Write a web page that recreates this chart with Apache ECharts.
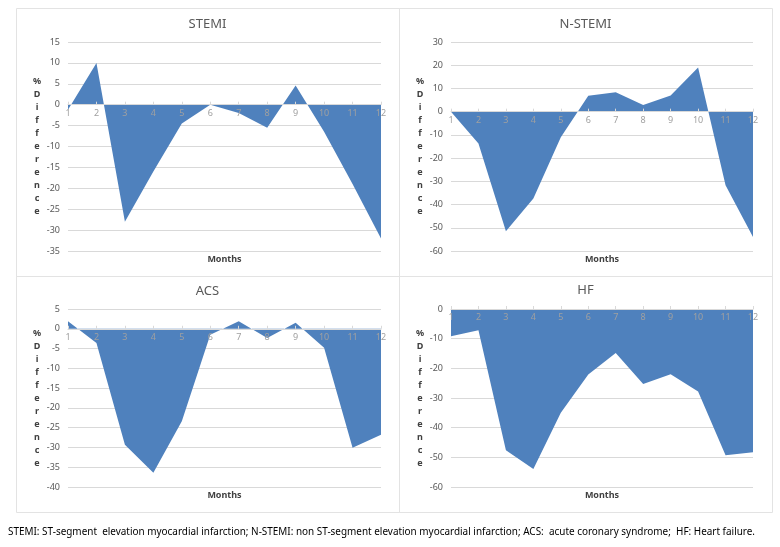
<!DOCTYPE html>
<html>
<head>
<meta charset="utf-8">
<script src="https://cdn.jsdelivr.net/npm/echarts@6/dist/echarts.min.js"></script>
<style>
html, body { margin: 0; padding: 0; background: #fff; }
#chart { width: 780px; height: 547px; }
</style>
</head>
<body>
<div id="chart"></div>
<script>
// months on the x axis
const months = ['1', '2', '3', '4', '5', '6', '7', '8', '9', '10', '11', '12']

// % difference per month, one array per panel
const stemi = [-1.2, 10, -28, -16, -4.5, 0, -2, -5.5, 4.6, -6.5, -19, -32]
const nstemi = [0, -13.7, -51.5, -37.4, -11, 6.9, 8.4, 2.9, 7, 19, -31.7, -54]
const acs = [1.9, -3.6, -29.3, -36.4, -23.4, -1.5, 1.9, -2.3, 1.5, -4.8, -30.1, -26.8]
const hf = [-9.2, -7.2, -47.6, -53.9, -35, -22.1, -14.8, -25.3, -22, -27.8, -49.3, -48.3]

const panelTitles = ['STEMI', 'N-STEMI', 'ACS', 'HF']
const yMin = [-35, -60, -40, -60]
const yMax = [15, 30, 5, 0]
const yStep = [5, 10, 5, 10]

const footnote = 'STEMI: ST-segment  elevation myocardial infarction; N-STEMI: non ST-segment elevation myocardial infarction; ACS:  acute coronary syndrome;  HF: Heart failure.'

const seriesData = [stemi, nstemi, acs, hf]

// layout of the 2x2 panels
const cells = [
  [16, 8, 383, 268],
  [399, 8, 373, 268],
  [16, 276, 383, 236],
  [399, 276, 373, 236]
]
const grids = [
  { left: 68, top: 42, width: 313, height: 209 },
  { left: 451, top: 42, width: 302, height: 209 },
  { left: 68, top: 309, width: 313, height: 178 },
  { left: 451, top: 309, width: 302, height: 178 }
]
const titleY = [24, 24, 291, 290]
const monthsY = [259, 259, 495, 495]

const font = '"Noto Sans", "Open Sans", sans-serif'
const blue = '#4f81bd'
const lineGray = '#d9d9d9'

const yName = '%\nD\ni\nf\nf\ne\nr\ne\nn\nc\ne'

let xAxes = []
let yAxes = []
let series = []
let graphics = []

grids.forEach((g, i) => {
  // category axis sits on the zero line, labels and all
  let zeroShift = -(0 - yMin[i]) / (yMax[i] - yMin[i]) * g.height
  xAxes.push({
    type: 'category',
    gridIndex: i,
    data: months,
    boundaryGap: false,
    position: 'bottom',
    offset: zeroShift,
    zlevel: 1,
    z: 10,
    axisLine: { onZero: false, lineStyle: { color: lineGray, width: 1 } },
    axisTick: { show: true, inside: true, length: 3, lineStyle: { color: lineGray } },
    axisLabel: { color: '#a0a0a0', fontSize: 9, fontFamily: font, margin: 4 }
  })
  yAxes.push({
    type: 'value',
    gridIndex: i,
    min: yMin[i],
    max: yMax[i],
    interval: yStep[i],
    name: yName,
    nameLocation: 'middle',
    nameRotate: 0,
    nameGap: 31,
    nameTextStyle: {
      color: '#404040', fontSize: 9, fontWeight: 'bold', fontFamily: font,
      lineHeight: 13, align: 'center', verticalAlign: 'middle'
    },
    axisLine: { show: false },
    axisTick: { show: false },
    axisLabel: { color: '#595959', fontSize: 9, fontFamily: font },
    splitLine: { lineStyle: { color: lineGray, width: 1 } }
  })
  series.push({
    type: 'line',
    xAxisIndex: i,
    yAxisIndex: i,
    data: seriesData[i],
    symbol: 'none',
    z: 1,
    lineStyle: { width: 0 },
    areaStyle: { color: blue, opacity: 1, origin: 0 },
    silent: true
  })
  const c = cells[i]
  graphics.push({
    type: 'rect',
    shape: { x: c[0] + 0.5, y: c[1] + 0.5, width: c[2], height: c[3] },
    style: { fill: null, stroke: '#e3e3e3', lineWidth: 1 },
    silent: true
  })
  graphics.push({
    type: 'text',
    x: c[0] + c[2] / 2,
    y: titleY[i],
    style: {
      text: panelTitles[i], fill: '#595959', fontSize: 13, fontFamily: font,
      align: 'center', verticalAlign: 'middle'
    }
  })
  graphics.push({
    type: 'text',
    x: g.left + g.width / 2,
    y: monthsY[i],
    style: {
      text: 'Months', fill: '#404040', fontSize: 9, fontWeight: 'bold', fontFamily: font,
      align: 'center', verticalAlign: 'middle'
    }
  })
})

// squeeze the footnote to the width it has in the picture
let footFont = '11px ' + font
let ctx = document.createElement('canvas').getContext('2d')
ctx.font = footFont
let footScale = 747 / ctx.measureText(footnote).width

graphics.push({
  type: 'text',
  x: 8,
  y: 532,
  scaleX: footScale,
  style: {
    text: footnote, fill: '#000', fontSize: 11, fontFamily: font,
    align: 'left', verticalAlign: 'middle'
  }
})

const chart = echarts.init(document.getElementById('chart'))
chart.setOption({
  animation: false,
  backgroundColor: '#fff',
  grid: grids,
  xAxis: xAxes,
  yAxis: yAxes,
  series: series,
  graphic: graphics
})
</script>
</body>
</html>
